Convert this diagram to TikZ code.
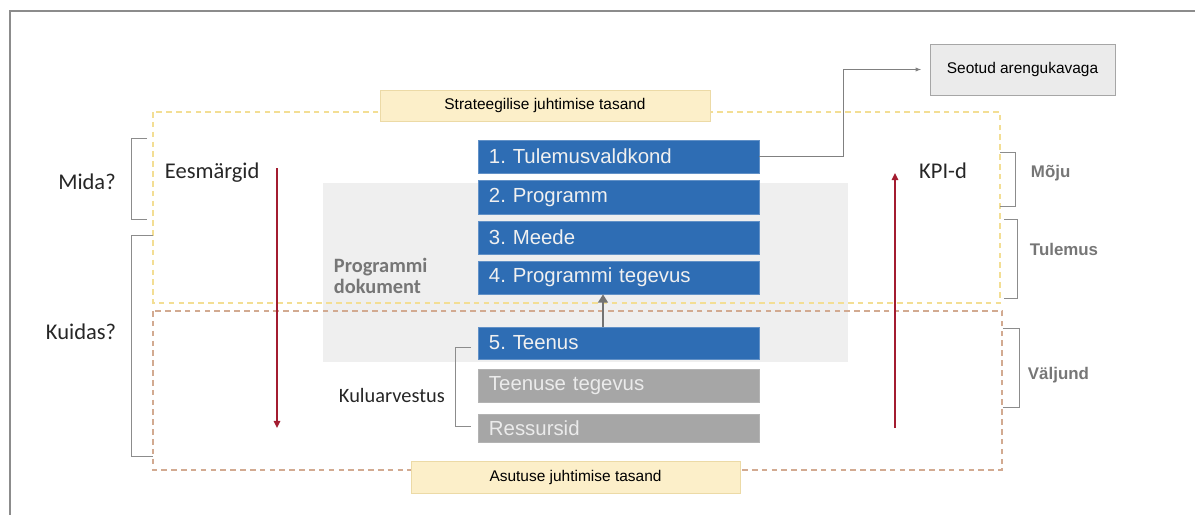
\documentclass[tikz,border=0pt]{standalone}
\usepackage{fontspec}
\setmainfont{Liberation Sans}
\newfontfamily\calibri{Carlito}
\usetikzlibrary{arrows.meta}
\definecolor{boxblue}{RGB}{46,109,180}
\definecolor{boxgray}{RGB}{166,166,166}
\definecolor{panelgray}{RGB}{239,239,239}
\definecolor{tasandfill}{RGB}{252,239,201}
\definecolor{tasanddraw}{RGB}{236,218,166}
\definecolor{strdash}{RGB}{243,222,148}
\definecolor{asudash}{RGB}{210,170,145}
\definecolor{kpired}{RGB}{163,28,48}
\definecolor{labelgray}{RGB}{118,118,118}
\definecolor{framegray}{RGB}{140,140,140}
\tikzset{
  levelbox/.style={fill=boxblue, draw=boxblue!75!white, text=white!94!black,
    text width=6.475cm, inner xsep=0.275cm, minimum height=0.825cm, align=left,
    font=\fontsize{14.5}{17}\selectfont},
  costbox/.style={levelbox, fill=boxgray, draw=boxgray!85!white, text=white!92!black},
  tasand/.style={fill=tasandfill, draw=tasanddraw, minimum width=8.25cm,
    minimum height=0.78cm, font=\fontsize{11}{13}\selectfont},
  question/.style={font=\calibri\fontsize{16}{19}\selectfont, text=black!85},
  sidelabel/.style={font=\bfseries\fontsize{12}{14}\selectfont, text=labelgray, anchor=west},
  bracket/.style={draw=framegray, line width=0.7pt},
  levelline/.style={dashed, dash pattern=on 4pt off 3pt, line width=0.9pt},
  kpiarrow/.style={draw=kpired, line width=1.6pt, -{Triangle[length=5pt,width=4.5pt]}},
}
\begin{document}
\frenchspacing
\begin{tikzpicture}[x=0.025cm, y=-0.025cm]
  \useasboundingbox (0,0) rectangle (1195,515);
  % outer frame
  \draw[framegray, line width=1pt] (1195,11) -- (10,11) -- (10,515);
  % programme document panel
  \fill[panelgray] (323,183) rectangle (848,362);
  % management levels
  \draw[levelline, strdash] (153,112) rectangle (1000,303);
  \draw[levelline, asudash] (153,311) rectangle (1002,470);
  \node[tasand] (strateegia) at (545,105.5) {Strateegilise juhtimise tasand};
  \node[tasand, minimum width=8.225cm, minimum height=0.8cm] (asutus) at (575.5,477) {Asutuse juhtimise tasand};
  % hierarchy boxes
  \node[levelbox] (valdkond) at (618.5,156.5) {1. Tulemusvaldkond};
  \node[levelbox, minimum height=0.85cm] (programm) at (618.5,197) {2. Programm};
  \node[levelbox] (meede) at (618.5,237.5) {3. Meede};
  \node[levelbox] (tegevus) at (618.5,277.5) {4. Programmi tegevus};
  \node[levelbox, minimum height=0.8cm] (teenus) at (618.5,343) {5. Teenus};
  \node[costbox] (tteg) at (618.5,385.5) {Teenuse tegevus};
  \node[costbox, minimum height=0.7cm] (ressurss) at (618.5,428) {Ressursid};
  \draw[draw=black!55, line width=2pt, -{Triangle[length=6pt,width=7pt]}]
    ([xshift=-0.3875cm]teenus.north) -- ([xshift=-0.3875cm]tegevus.south);
  % link to the development plan
  \node[fill=black!8, draw=black!35, minimum width=4.625cm, minimum height=1.275cm,
    font=\fontsize{11}{13}\selectfont] (seotud) at (1022.5,69.5) {Seotud arengukavaga};
  \draw[draw=black!50, line width=0.7pt, -{Latex[length=4pt,width=3pt]}, shorten >=6pt]
    (valdkond.east) -- ++(84,0) |- (seotud.west);
  % goals and KPI arrows
  \coordinate (eesalgus) at (277,168);
  \coordinate (eeslopp) at (277,428);
  \coordinate (kpialgus) at (895,428);
  \coordinate (kpilopp) at (895,173);
  \draw[kpiarrow] (eesalgus) -- (eeslopp);
  \draw[kpiarrow] (kpialgus) -- (kpilopp);
  \node[question, anchor=west] (eesmargid) at (160,173) {Eesmärgid};
  \node[question] (kpi) at (943,171) {KPI-d};
  % questions on the left
  \node[question] (mida) at (87,182) {Mida?};
  \node[question] (kuidas) at (81,332) {Kuidas?};
  \draw[bracket] (147,138) -| (131,219) -- (147,219);
  \draw[bracket] (153,235) -| (131,456) -- (153,456);
  % result levels on the right
  \draw[bracket] (1000,152) -| (1015,206) -- (1000,206);
  \draw[bracket] (1004,219) -| (1017,298) -- (1004,298);
  \draw[bracket] (1003,328) -| (1019,407) -- (1003,407);
  \node[sidelabel] (moju) at (1026,173) {Mõju};
  \node[sidelabel] (tulemus) at (1025,249) {Tulemus};
  \node[sidelabel] (valjund) at (1023,375) {Väljund};
  % programme document and cost accounting
  \node[anchor=west, align=left, text=labelgray, font=\calibri\bfseries\fontsize{14.5}{15.5}\selectfont]
    (dokument) at (329,276) {Programmi\\dokument};
  \node[question, anchor=west, font=\calibri\fontsize{14.5}{17}\selectfont] (kulu) at (334,395) {Kuluarvestus};
  \draw[bracket] (471,347) -| (455,426) -- (471,426);
\end{tikzpicture}
\end{document}
